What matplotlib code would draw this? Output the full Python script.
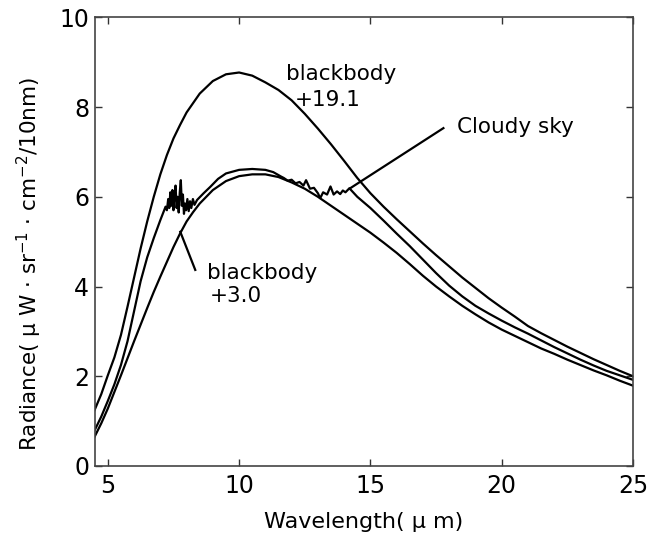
import numpy as np
import matplotlib
matplotlib.use("Agg")
import matplotlib.pyplot as plt

plt.rcParams['font.family'] = ['DejaVu Sans', 'Noto Sans CJK JP']

# blackbody +19.1
bb19_x = [4.47, 4.75, 5.0, 5.25, 5.5, 5.75, 6.0, 6.25, 6.5, 6.75, 7.0, 7.25, 7.5, 7.75,
          8.0, 8.5, 9.0, 9.5, 10.0, 10.5, 11.0, 11.5, 12.0, 12.5, 13.0, 13.5, 14.0,
          14.5, 15.0, 15.5, 16.0, 16.5, 17.0, 17.5, 18.0, 18.5, 19.0, 19.5, 20.0,
          20.5, 21.0, 21.5, 22.0, 22.5, 23.0, 23.5, 24.0, 24.5, 25.0]
bb19_y = [1.21, 1.6, 2.02, 2.42, 2.92, 3.55, 4.2, 4.85, 5.45, 6.0, 6.5, 6.93, 7.3, 7.6,
          7.88, 8.3, 8.58, 8.73, 8.77, 8.7, 8.55, 8.38, 8.15, 7.85, 7.52, 7.17, 6.8,
          6.42, 6.08, 5.78, 5.5, 5.23, 4.96, 4.7, 4.45, 4.2, 3.97, 3.74, 3.53,
          3.33, 3.12, 2.96, 2.81, 2.66, 2.52, 2.38, 2.25, 2.12, 2.0]

# cloudy sky
cloud_x = [4.42, 4.75, 5.0, 5.25, 5.5, 5.75, 6.0, 6.25, 6.5, 6.75, 7.0, 7.2,
           7.25, 7.3, 7.34, 7.38, 7.42, 7.46, 7.5, 7.54, 7.58, 7.62, 7.66, 7.7, 7.74,
           7.78, 7.82, 7.86, 7.9, 7.94, 7.98, 8.03, 8.08, 8.13, 8.18, 8.24, 8.3,
           8.4, 8.65, 8.9, 9.2, 9.5, 10.0, 10.5, 11.0, 11.3, 11.6,
           11.7, 11.85, 12.0, 12.15, 12.3, 12.45, 12.55, 12.7, 12.85, 13.0, 13.09,
           13.2, 13.35, 13.48, 13.6, 13.73, 13.85, 13.95, 14.05, 14.2,
           14.5, 15.0, 15.5, 16.0, 16.5, 17.0, 17.5, 18.0, 18.5, 19.0, 19.5, 20.0,
           20.5, 21.0, 21.5, 22.0, 22.5, 23.0, 23.5, 24.0, 24.5, 25.0]
cloud_y = [0.7, 1.1, 1.45, 1.82, 2.25, 2.78, 3.45, 4.12, 4.65, 5.08, 5.48, 5.78,
           5.7, 5.95, 5.75, 6.1, 5.8, 6.15, 5.7, 6.05, 6.25, 5.75, 6.0, 5.65, 6.1,
           6.37, 5.8, 6.05, 5.62, 5.85, 5.7, 5.95, 5.68, 5.9, 5.75, 5.95, 5.82,
           5.93, 6.08, 6.22, 6.4, 6.52, 6.6, 6.62, 6.6, 6.55, 6.45,
           6.42, 6.36, 6.38, 6.3, 6.33, 6.25, 6.37, 6.18, 6.2, 6.08, 5.97,
           6.1, 6.05, 6.23, 6.05, 6.12, 6.06, 6.14, 6.1, 6.19,
           6.0, 5.75, 5.47, 5.18, 4.9, 4.6, 4.3, 4.02, 3.78, 3.57, 3.4, 3.24,
           3.09, 2.95, 2.8, 2.65, 2.51, 2.37, 2.24, 2.12, 2.02, 1.92]

# blackbody +3.0
bb3_x = [4.47, 4.75, 5.0, 5.25, 5.5, 5.75, 6.0, 6.25, 6.5, 6.75, 7.0, 7.25, 7.5, 7.75,
         8.0, 8.25, 8.5, 8.75, 9.0, 9.5, 10.0, 10.5, 11.0, 11.5, 12.0, 12.5, 13.0,
         13.5, 14.0, 14.5, 15.0, 15.5, 16.0, 16.5, 17.0, 17.5, 18.0, 18.5, 19.0,
         19.5, 20.0, 20.5, 21.0, 21.5, 22.0, 22.5, 23.0, 23.5, 24.0, 24.5, 25.0]
bb3_y = [0.62, 0.95, 1.28, 1.65, 2.02, 2.4, 2.78, 3.15, 3.52, 3.88, 4.22, 4.55, 4.88, 5.18,
         5.45, 5.66, 5.85, 6.0, 6.15, 6.35, 6.46, 6.5, 6.5, 6.44, 6.32, 6.18, 6.0,
         5.8, 5.6, 5.4, 5.2, 4.98, 4.75, 4.5, 4.24, 4.0, 3.78, 3.57, 3.38,
         3.2, 3.04, 2.9, 2.76, 2.62, 2.5, 2.37, 2.25, 2.13, 2.02, 1.9, 1.79]

fig = plt.figure(figsize=(6.64, 5.36), dpi=100)
ax = fig.add_axes([0.1426, 0.1306, 0.8107, 0.8371])

for xs, ys in [(bb19_x, bb19_y), (cloud_x, cloud_y), (bb3_x, bb3_y)]:
    ax.plot(xs, ys, color='black', lw=1.6)

ax.set_xlim(4.5, 25)
ax.set_ylim(0, 10)
ax.set_xticks([5, 10, 15, 20, 25])
ax.set_yticks([0, 2, 4, 6, 8, 10])
ax.tick_params(direction='in', top=True, right=True, length=5, width=1,
               labelsize=17, pad=4, color='#333333')
ax.tick_params(axis='x', pad=6)
for s in ax.spines.values():
    s.set_linewidth(1.2)
    s.set_color('#444444')

ax.set_xlabel('Wavelength( μ m)', fontsize=16, labelpad=10)
ax.set_ylabel('Radiance( μ W · sr$^{-1}$ · cm$^{-2}$/10nm)', fontsize=15.5)
ax.yaxis.set_label_coords(-0.095, 0.45)

# annotations
ax.text(11.77, 8.74, 'blackbody', fontsize=15.5, ha='left', va='center')
ax.text(12.13, 8.16, '+19.1', fontsize=15.5, ha='left', va='center')
ax.plot([14.23, 17.78], [6.19, 7.53], color='black', lw=1.6)
ax.text(18.3, 7.55, 'Cloudy sky', fontsize=15.5, ha='left', va='center')
ax.plot([7.76, 8.33], [5.22, 4.37], color='black', lw=1.6)
ax.text(8.79, 4.3, 'blackbody', fontsize=15.5, ha='left', va='center')
ax.text(8.9, 3.79, '+3.0', fontsize=15.5, ha='left', va='center')

fig.savefig('out.png', dpi=100)
